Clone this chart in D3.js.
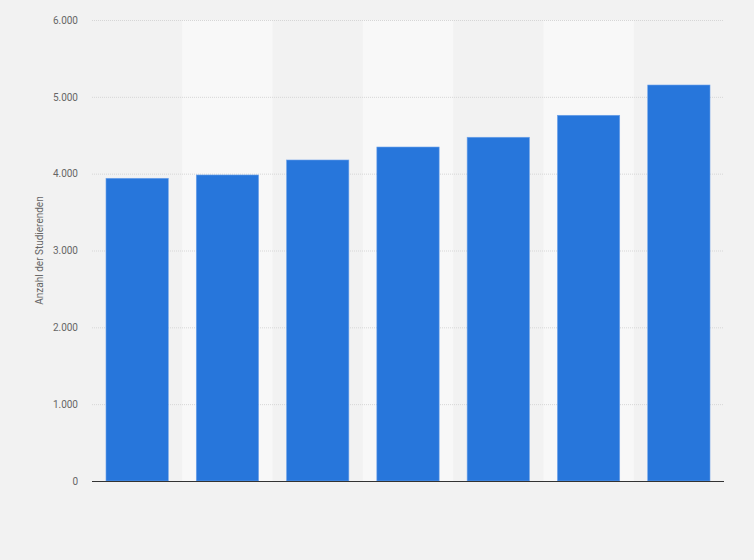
<!DOCTYPE html>
<html>
<head>
<meta charset="utf-8">
<script src="https://cdn.jsdelivr.net/npm/d3@7"></script>
<style>
  body { margin: 0; background: #f2f2f2; }
  .axis text { font-family: Roboto, "Liberation Sans", sans-serif; font-size: 10px; fill: #666; }
</style>
</head>
<body>
<script>
// categories are not labelled in the picture, one entry per bar
const semesters = ['1', '2', '3', '4', '5', '6', '7'];
const students = [3940, 3983, 4178, 4347, 4474, 4760, 5154];
const yTicks = [0, 1000, 2000, 3000, 4000, 5000, 6000];

const outerWidth = 754;
const outerHeight = 560;

const margin = {top: 20, left: 92, bottom: 79, right: 30};
const width = outerWidth - margin.left - margin.right;
const height = outerHeight - margin.top - margin.bottom;

const svg = d3.select('body')
  .append('svg')
  .attr('width', outerWidth)
  .attr('height', outerHeight)
  .style('display', 'block')
  .style('background', '#f2f2f2')
  .append('g')
  .attr('transform', `translate(${margin.left}, ${margin.top})`);

const xScale = d3.scaleBand()
  .domain(semesters)
  .range([0, width])
  .paddingInner(0.31)
  .paddingOuter(0.155);

const yScale = d3.scaleLinear()
  .domain([0, 6000])
  .range([height, 0]);

// alternating column shading
const step = xScale.step();
svg.selectAll('rect.band')
  .data(semesters.filter((d, i) => i % 2 === 1))
  .enter()
  .append('rect')
  .attr('class', 'band')
  .attr('x', d => xScale(d) - xScale.step() * xScale.paddingInner() / 2)
  .attr('y', 0)
  .attr('width', step)
  .attr('height', height)
  .attr('fill', '#f8f8f8');

// grid lines
svg.selectAll('line.grid')
  .data(yTicks.filter(d => d > 0))
  .enter()
  .append('line')
  .attr('class', 'grid')
  .attr('x1', 0)
  .attr('x2', width)
  .attr('y1', d => yScale(d) + 0.5)
  .attr('y2', d => yScale(d) + 0.5)
  .attr('stroke', '#d6d6d6')
  .attr('stroke-dasharray', '1,1');

svg.selectAll('rect.bar')
  .data(students)
  .enter()
  .append('rect')
  .attr('class', 'bar')
  .attr('x', (d, i) => xScale(semesters[i]))
  .attr('y', d => yScale(d))
  .attr('width', xScale.bandwidth())
  .attr('height', d => height - yScale(d))
  .attr('fill', '#2776db')
  .attr('stroke', '#6fa3ea')
  .attr('stroke-width', 0.6);

const yAxis = d3.axisLeft()
  .scale(yScale)
  .tickValues(yTicks)
  .tickSize(0)
  .tickPadding(14)
  .tickFormat(d => d3.format(',')(d).replace(/,/g, '.'));

svg.append('g')
  .attr('class', 'axis y-axis')
  .call(yAxis)
  .call(g => g.select('.domain').remove());

const xAxis = d3.axisBottom()
  .scale(xScale)
  .tickSize(0)
  .tickFormat('');

svg.append('g')
  .attr('class', 'axis x-axis')
  .attr('transform', `translate(0, ${height})`)
  .call(xAxis)
  .call(g => g.select('.domain').attr('stroke', '#333').attr('stroke-width', 1.2).attr('d', `M0,0.5H${width}`));

svg.append('text')
  .attr('transform', `translate(${-49}, ${height / 2}) rotate(-90)`)
  .attr('text-anchor', 'middle')
  .attr('font-size', 10)
  .attr('font-family', 'Roboto, "Liberation Sans", sans-serif')
  .attr('fill', '#666')
  .text('Anzahl der Studierenden');
</script>
</body>
</html>
